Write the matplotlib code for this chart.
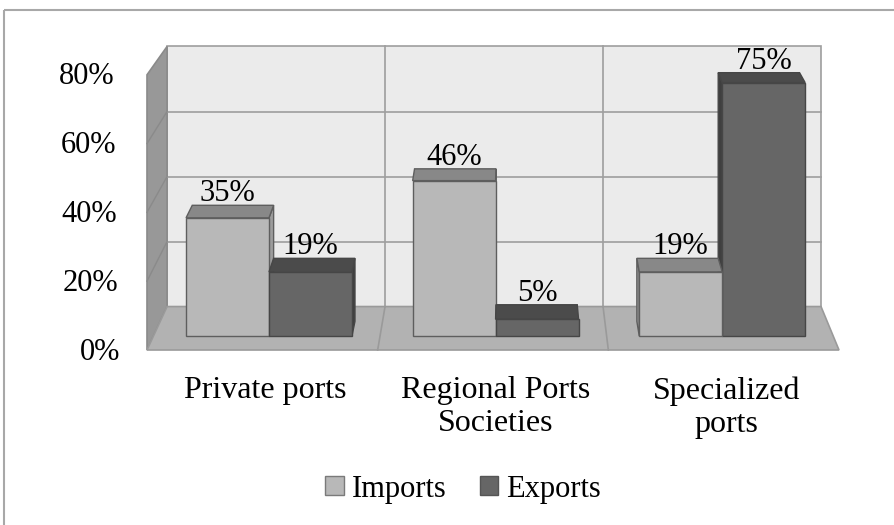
import matplotlib
matplotlib.use("Agg")
from matplotlib import pyplot as plt
from matplotlib.patches import Polygon, Patch, Rectangle

categories = ["Private ports", "Regional Ports\nSocieties", "Specialized\nports"]
imports = [0.35, 0.46, 0.19]
exports = [0.19, 0.05, 0.75]
series_names = ["Imports", "Exports"]
y_ticks = [0.0, 0.2, 0.4, 0.6, 0.8]

FONT = "Liberation Serif"
FS = 22

# face colours: (front, top, side, edge)
IMP = ("#b8b8b8", "#888888", "#9c9c9c", "#5e5e5e")
EXP = ("#666666", "#4b4b4b", "#3f3f3f", "#464646")

# simple one-point perspective: u = category axis, v = value, z = depth (0 front, 1 back)
X0, UW = 147.0, 692.0 / 3      # front-plane pixel origin and width of one category
Y0, VS = 350.0, 344.0           # front-plane floor y and pixels per unit value
VX, VY = 512.0, -440.0          # vanishing point
K = 0.055                       # shrink from front to back


def proj(u, v, z):
    s = 1 - K * z
    fx = X0 + u * UW
    fy = Y0 - v * VS
    return (VX + (fx - VX) * s, VY + (fy - VY) * s)


def poly(ax, pts, fc, ec, lw=1.0, z=1):
    ax.add_patch(Polygon([proj(*p) for p in pts], closed=True, fc=fc, ec=ec,
                         lw=lw, zorder=z, joinstyle="miter"))


fig = plt.figure(figsize=(8.95, 5.25), dpi=100)
ax = fig.add_axes([0, 0, 1, 1])
ax.set_xlim(0, 895)
ax.set_ylim(525, 0)
ax.axis("off")

# chart border
ax.add_patch(Rectangle((4, 10), 900, 530, fc="none", ec="#a8a8a8", lw=1.5, zorder=0))

ncat = len(categories)
vmax = y_ticks[-1]
grid = "#9e9e9e"

# walls and floor
poly(ax, [(0, 0, 1), (ncat, 0, 1), (ncat, vmax, 1), (0, vmax, 1)], "#ebebeb", grid, 1.2)
poly(ax, [(0, 0, 0), (0, 0, 1), (0, vmax, 1), (0, vmax, 0)], "#989898", "#8a8a8a", 1.2)
poly(ax, [(0, 0, 0), (ncat, 0, 0), (ncat, 0, 1), (0, 0, 1)], "#b2b2b2", "#9a9a9a", 1.2)

for t in y_ticks[1:-1]:
    ax.plot(*zip(proj(0, t, 1), proj(ncat, t, 1)), color=grid, lw=1.2, zorder=1.5)
    ax.plot(*zip(proj(0, t, 0), proj(0, t, 1)), color="#8a8a8a", lw=1.0, zorder=1.5)
for i in range(1, ncat):
    ax.plot(*zip(proj(i, 0, 1), proj(i, vmax, 1)), color=grid, lw=1.2, zorder=1.5)
    ax.plot(*zip(proj(i, 0, 0), proj(i, 0, 1)), color="#9a9a9a", lw=1.2, zorder=1.5)

# bars
bw = 0.366
z0, z1 = 0.32, 0.66
bars = []
for i in range(ncat):
    c = i + 0.51
    bars.append((c - bw, c, imports[i], IMP))
    bars.append((c, c + bw, exports[i], EXP))

# paint the bars farthest from the vanishing point first
bars.sort(key=lambda b: -abs(proj((b[0] + b[1]) / 2, 0, z0)[0] - VX))
for u0, u1, v, (front, top, side, edge) in bars:
    if proj(u1, 0, z0)[0] < VX:
        poly(ax, [(u1, 0, z0), (u1, 0, z1), (u1, v, z1), (u1, v, z0)], side, edge, z=2)
    if proj(u0, 0, z0)[0] > VX:
        poly(ax, [(u0, 0, z0), (u0, 0, z1), (u0, v, z1), (u0, v, z0)], side, edge, z=2)
    poly(ax, [(u0, v, z0), (u1, v, z0), (u1, v, z1), (u0, v, z1)], top, edge, z=2)
    poly(ax, [(u0, 0, z0), (u1, 0, z0), (u1, v, z0), (u0, v, z0)], front, edge, z=2)
    lx = (proj(u0, v, z0)[0] + proj(u1, v, z0)[0]) / 2
    ly = proj((u0 + u1) / 2, v, z1)[1] - 4
    ax.text(lx, ly, f"{v * 100:.0f}%", ha="center", va="baseline",
            family=FONT, fontsize=FS, zorder=5)

# value axis labels
for t in y_ticks:
    x, y = proj(0, t, 0)
    ax.text(120 - 5 * t / vmax, y + 2, f"{t * 100:.0f}%", ha="right", va="center",
            family=FONT, fontsize=FS)

# category labels
for i, name in enumerate(categories):
    x, y = proj(i + 0.5, 0, 0)
    ax.text(x + 3, y + 26, name, ha="center", va="top", family=FONT,
            fontsize=FS + 1, linespacing=1.2)

handles = [Patch(fc=IMP[0], ec="#7a7a7a", lw=1.0), Patch(fc=EXP[0], ec="#555555", lw=1.0)]
fig.legend(handles, series_names, loc="center", bbox_to_anchor=(463 / 895, 1 - 489 / 525),
           ncol=2, frameon=False, prop={"family": FONT, "size": FS},
           handlelength=0.6, handleheight=0.6, handletextpad=0.25,
           columnspacing=1.1, borderaxespad=0)

fig.savefig("out.png", dpi=100)
